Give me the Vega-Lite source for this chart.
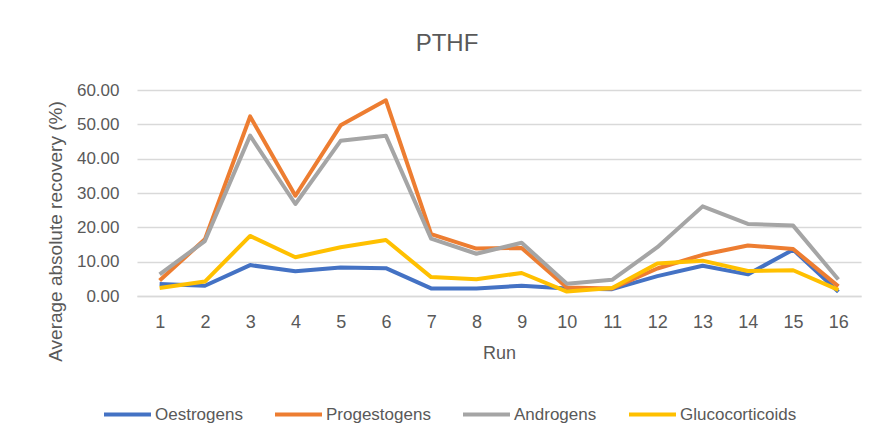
{
  "$schema": "https://vega.github.io/schema/vega-lite/v6.json",
  "width": 724,
  "height": 206,
  "autosize": {"type": "none"},
  "padding": {"left": 137, "top": 90, "right": 14, "bottom": 147},
  "background": "white",
  "config": {
    "view": {"stroke": null},
    "font": "Liberation Sans, sans-serif"
  },
  "title": {
    "text": "PTHF",
    "fontSize": 24,
    "fontWeight": "normal",
    "color": "#595959",
    "anchor": "middle",
    "dx": -52,
    "offset": 25
  },
  "data": {
    "values": [
      {"run": 1, "group": "Oestrogens", "value": 3.5},
      {"run": 2, "group": "Oestrogens", "value": 3.0},
      {"run": 3, "group": "Oestrogens", "value": 9.0},
      {"run": 4, "group": "Oestrogens", "value": 7.2},
      {"run": 5, "group": "Oestrogens", "value": 8.3},
      {"run": 6, "group": "Oestrogens", "value": 8.1},
      {"run": 7, "group": "Oestrogens", "value": 2.2},
      {"run": 8, "group": "Oestrogens", "value": 2.2},
      {"run": 9, "group": "Oestrogens", "value": 3.0},
      {"run": 10, "group": "Oestrogens", "value": 2.2},
      {"run": 11, "group": "Oestrogens", "value": 2.0},
      {"run": 12, "group": "Oestrogens", "value": 5.8},
      {"run": 13, "group": "Oestrogens", "value": 8.8},
      {"run": 14, "group": "Oestrogens", "value": 6.3},
      {"run": 15, "group": "Oestrogens", "value": 13.5},
      {"run": 16, "group": "Oestrogens", "value": 1.2},
      {"run": 1, "group": "Progestogens", "value": 4.5},
      {"run": 2, "group": "Progestogens", "value": 16.5},
      {"run": 3, "group": "Progestogens", "value": 52.3},
      {"run": 4, "group": "Progestogens", "value": 29.2},
      {"run": 5, "group": "Progestogens", "value": 49.7},
      {"run": 6, "group": "Progestogens", "value": 57.0},
      {"run": 7, "group": "Progestogens", "value": 18.0},
      {"run": 8, "group": "Progestogens", "value": 13.8},
      {"run": 9, "group": "Progestogens", "value": 14.0},
      {"run": 10, "group": "Progestogens", "value": 2.5},
      {"run": 11, "group": "Progestogens", "value": 2.2},
      {"run": 12, "group": "Progestogens", "value": 8.0},
      {"run": 13, "group": "Progestogens", "value": 12.0},
      {"run": 14, "group": "Progestogens", "value": 14.7},
      {"run": 15, "group": "Progestogens", "value": 13.7},
      {"run": 16, "group": "Progestogens", "value": 2.8},
      {"run": 1, "group": "Androgens", "value": 6.3},
      {"run": 2, "group": "Androgens", "value": 16.0},
      {"run": 3, "group": "Androgens", "value": 46.7},
      {"run": 4, "group": "Androgens", "value": 26.8},
      {"run": 5, "group": "Androgens", "value": 45.2},
      {"run": 6, "group": "Androgens", "value": 46.7},
      {"run": 7, "group": "Androgens", "value": 16.7},
      {"run": 8, "group": "Androgens", "value": 12.3},
      {"run": 9, "group": "Androgens", "value": 15.5},
      {"run": 10, "group": "Androgens", "value": 3.6},
      {"run": 11, "group": "Androgens", "value": 4.7},
      {"run": 12, "group": "Androgens", "value": 14.2},
      {"run": 13, "group": "Androgens", "value": 26.1},
      {"run": 14, "group": "Androgens", "value": 21.0},
      {"run": 15, "group": "Androgens", "value": 20.5},
      {"run": 16, "group": "Androgens", "value": 4.8},
      {"run": 1, "group": "Glucocorticoids", "value": 2.3},
      {"run": 2, "group": "Glucocorticoids", "value": 4.2},
      {"run": 3, "group": "Glucocorticoids", "value": 17.5},
      {"run": 4, "group": "Glucocorticoids", "value": 11.3},
      {"run": 5, "group": "Glucocorticoids", "value": 14.2},
      {"run": 6, "group": "Glucocorticoids", "value": 16.3},
      {"run": 7, "group": "Glucocorticoids", "value": 5.5},
      {"run": 8, "group": "Glucocorticoids", "value": 4.9},
      {"run": 9, "group": "Glucocorticoids", "value": 6.7},
      {"run": 10, "group": "Glucocorticoids", "value": 1.3},
      {"run": 11, "group": "Glucocorticoids", "value": 2.3},
      {"run": 12, "group": "Glucocorticoids", "value": 9.5},
      {"run": 13, "group": "Glucocorticoids", "value": 10.3},
      {"run": 14, "group": "Glucocorticoids", "value": 7.3},
      {"run": 15, "group": "Glucocorticoids", "value": 7.5},
      {"run": 16, "group": "Glucocorticoids", "value": 1.8}
    ]
  },
  "mark": {"type": "line", "strokeWidth": 4, "strokeJoin": "round"},
  "encoding": {
    "x": {
      "field": "run",
      "type": "ordinal",
      "title": "Run",
      "scale": {"type": "point", "padding": 0.5},
      "axis": {
        "labelAngle": 0,
        "labelFontSize": 18,
        "labelColor": "#595959",
        "labelPadding": 17,
        "ticks": false,
        "domain": true,
        "domainColor": "#d9d9d9",
        "domainWidth": 1.5,
        "titleFontSize": 18,
        "titleFontWeight": "normal",
        "titleColor": "#595959",
        "titlePadding": 13
      }
    },
    "y": {
      "field": "value",
      "type": "quantitative",
      "title": "Average absolute recovery (%)",
      "scale": {"domain": [0, 60], "nice": false},
      "axis": {
        "values": [0, 10, 20, 30, 40, 50, 60],
        "format": ".2f",
        "labelFontSize": 17,
        "labelColor": "#595959",
        "labelPadding": 18,
        "ticks": false,
        "domain": false,
        "grid": true,
        "gridColor": "#d9d9d9",
        "gridWidth": 1.5,
        "titleFontSize": 19,
        "titleFontWeight": "normal",
        "titleColor": "#595959",
        "titleAngle": -90,
        "titleAlign": "center",
        "titleBaseline": "middle",
        "titleX": -82,
        "titleY": 141
      }
    },
    "color": {
      "field": "group",
      "type": "nominal",
      "sort": ["Oestrogens", "Progestogens", "Androgens", "Glucocorticoids"],
      "scale": {
        "domain": ["Oestrogens", "Progestogens", "Androgens", "Glucocorticoids"],
        "range": ["#4472C4", "#ED7D31", "#A5A5A5", "#FFC000"]
      },
      "legend": {
        "title": null,
        "orient": "none",
        "direction": "horizontal",
        "gridAlign": "none",
        "legendX": -35,
        "legendY": 299,
        "symbolType": "stroke",
        "symbolSize": 2209,
        "symbolStrokeWidth": 4,
        "labelFontSize": 17,
        "labelColor": "#595959",
        "labelOffset": 2,
        "columnPadding": 24
      }
    }
  }
}
